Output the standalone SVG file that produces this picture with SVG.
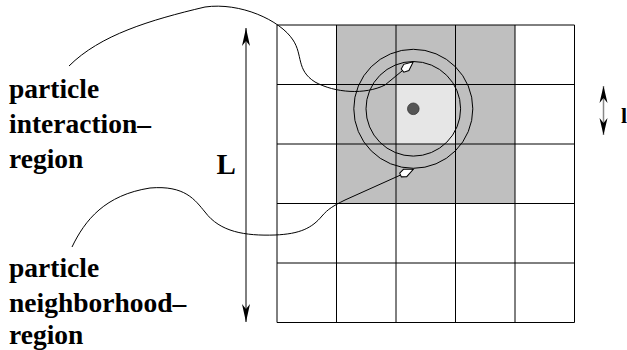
<svg xmlns="http://www.w3.org/2000/svg" width="627" height="350" viewBox="0 0 627 350">
<style>
.lbl{font-family:"Liberation Serif","Times New Roman",serif;font-weight:bold;font-size:27.5px;fill:#000}
.grid line{stroke:#000;stroke-width:1}
.circ{fill:none;stroke:#000;stroke-width:1}
.lead{fill:none;stroke:#000;stroke-width:1}
</style>
<defs>
<marker id="white" markerUnits="userSpaceOnUse" markerWidth="20" markerHeight="12" viewBox="-16 -6 17 12" refX="0" refY="0" orient="auto">
<path d="M0,0 L-9,-4 L-14,-2 L-14,2 L-9,4 Z" fill="#fff" stroke="#000" stroke-width="1"/>
</marker>
<marker id="black" markerUnits="userSpaceOnUse" markerWidth="22" markerHeight="12" viewBox="-20 -6 21 12" refX="0" refY="0" orient="auto-start-reverse">
<path d="M0,0 L-18,-4 L-13,0 L-18,4 Z" fill="#000"/>
</marker>
<marker id="blacks" markerUnits="userSpaceOnUse" markerWidth="20" markerHeight="12" viewBox="-18 -6 19 12" refX="0" refY="0" orient="auto-start-reverse">
<path d="M0,0 L-17,-4 L-12,0 L-17,4 Z" fill="#000"/>
</marker>
</defs>
<g id="grid">
<rect x="336.5" y="25" width="178.5" height="178.5" fill="#bfbfbf"/>
<rect x="396" y="84.5" width="59.5" height="59.5" fill="#e6e6e6"/>
<g class="grid">
<line x1="277" y1="25" x2="277" y2="322.5"/>
<line x1="336.5" y1="25" x2="336.5" y2="322.5"/>
<line x1="396" y1="25" x2="396" y2="322.5"/>
<line x1="455.5" y1="25" x2="455.5" y2="322.5"/>
<line x1="515" y1="25" x2="515" y2="322.5"/>
<line x1="574.5" y1="25" x2="574.5" y2="322.5"/>
<line x1="277" y1="25" x2="574.5" y2="25"/>
<line x1="277" y1="84.5" x2="574.5" y2="84.5"/>
<line x1="277" y1="144" x2="574.5" y2="144"/>
<line x1="277" y1="203.5" x2="574.5" y2="203.5"/>
<line x1="277" y1="263" x2="574.5" y2="263"/>
<line x1="277" y1="322.5" x2="574.5" y2="322.5"/>
</g>
</g>
<g id="particle">
<circle class="circ" cx="413.3" cy="108.8" r="47.3"/>
<circle class="circ" cx="413.3" cy="108.8" r="59.5"/>
<circle cx="413.3" cy="108.8" r="5.8" fill="#555" stroke="#333" stroke-width="0.8"/>
</g>
<g id="label-interaction">
<text class="lbl" x="9" y="98">particle</text>
<text class="lbl" x="9" y="133">interaction–</text>
<text class="lbl" x="9" y="168">region</text>
</g>
<g id="label-neighborhood">
<text class="lbl" x="9" y="277">particle</text>
<text class="lbl" x="9" y="312">neighborhood–</text>
<text class="lbl" x="9" y="343.5">region</text>
</g>
<g id="label-L">
<text class="lbl" x="216.5" y="173.5" style="font-size:29px">L</text>
</g>
<g id="label-l">
<text class="lbl" x="621" y="123" style="font-size:22px">l</text>
</g>
<g id="connectors">
<path class="lead" d="M69,66 C100,35 150,20 205,7 C240,2 280,20 293,40 C303,55 296,70 315,82 C335,93 365,95 385,85 L413.3,61.7" marker-end="url(#white)"/>
<path class="lead" d="M72,247 C85,220 105,195 150,188 C185,185 195,200 205,212 C220,232 245,236 275,235 C300,234 312,228 322,216 C328,209 333,206 345,200 L413.3,169.3" marker-end="url(#white)"/>
<line x1="246" y1="28" x2="246" y2="322" stroke="#000" stroke-width="1" marker-start="url(#black)" marker-end="url(#black)"/>
<line x1="603.5" y1="86" x2="603.5" y2="135" stroke="#888" stroke-width="1.5" marker-start="url(#blacks)" marker-end="url(#blacks)"/>
</g>
</svg>
